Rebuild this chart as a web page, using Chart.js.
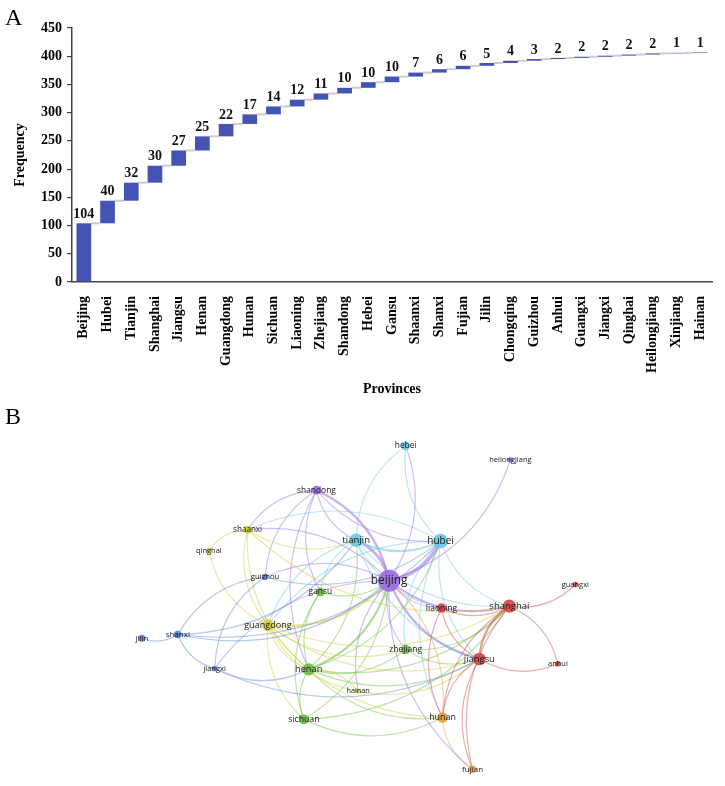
<!DOCTYPE html>
<html><head><meta charset="utf-8">
<script src="https://cdn.jsdelivr.net/npm/chart.js@4/dist/chart.umd.min.js"></script>
<style>
html,body{margin:0;padding:0;background:#fff;}
#wrap{position:relative;width:725px;height:786px;overflow:hidden;background:#fff;}
.panel{position:absolute;font-family:"Liberation Serif","Times New Roman",serif;font-size:24px;line-height:24px;color:#000;}
canvas{position:absolute;left:0;}
</style></head><body>
<div id="wrap">
<canvas id="ca" width="725" height="400" style="top:0"></canvas>
<canvas id="cb" width="725" height="386" style="top:400px"></canvas>
<div class="panel" style="top:5px;left:5px">A</div>
<div class="panel" style="top:404px;left:5px">B</div>
</div>
<script>
// ---------- Panel A data ----------
const provinces = ['Beijing','Hubei','Tianjin','Shanghai','Jiangsu','Henan','Guangdong','Hunan','Sichuan','Liaoning','Zhejiang','Shandong','Hebei','Gansu','Shaanxi','Shanxi','Fujian','Jilin','Chongqing','Guizhou','Anhui','Guangxi','Jiangxi','Qinghai','Heilongjiang','Xinjiang','Hainan'];
const frequency = [104,40,32,30,27,25,22,17,14,12,11,10,10,10,7,6,6,5,4,3,2,2,2,2,2,1,1];
const yTicks = [0,50,100,150,200,250,300,350,400,450];

// ---------- Panel B data ----------
const nodeNames = ['beijing','tianjin','hubei','hebei','heilongjiang','shandong','shaanxi','qinghai','guizhou','gansu','guangdong','shanxi','jilin','jiangxi','henan','hainan','sichuan','zhejiang','liaoning','shanghai','guangxi','jiangsu','anhui','hunan','fujian'];
const nodeX = [0,-34,53,17,125,-75,-146,-186,-128,-71,-125,-218,-255,-180,-83,-32,-88,17,54,124,192,93,174,55,86];
const nodeY = [0,43,42,143,128,96,54,32,4,-12,-47,-57,-61,-93,-94,-117,-147,-73,-29,-27,-4,-83,-88,-145,-200];
const nodeCluster = [5,6,6,6,5,5,4,4,3,2,4,3,3,3,2,4,2,2,1,1,1,1,1,7,7];
const links = [
 ['beijing','tianjin',3],['beijing','hubei',4],['beijing','heilongjiang',1],['beijing','shandong',2],
 ['beijing','shanghai',2],['beijing','jiangsu',2],['beijing','liaoning',1],['beijing','fujian',1],
 ['beijing','zhejiang',1],['beijing','guizhou',1],['beijing','shaanxi',1],['beijing','jiangxi',1],['beijing','hainan',1],
 ['shandong','tianjin',1],['shandong','hubei',1],['shandong','guizhou',1],['shandong','gansu',1],['shandong','henan',1],['shandong','shaanxi',1],
 ['tianjin','hubei',2],['hebei','tianjin',1],['hebei','hubei',1],['beijing','hebei',1],['tianjin','shanghai',1],['tianjin','jiangsu',1],
 ['tianjin','liaoning',1],['tianjin','guangdong',1],['tianjin','gansu',1],['hubei','shanghai',1],['hubei','jiangsu',1],
 ['hubei','zhejiang',1],['hubei','hunan',1],['hubei','guangdong',1],['hubei','shaanxi',1],
 ['henan','beijing',2],['henan','tianjin',1],['henan','hubei',1],['henan','sichuan',1],['henan','hunan',1],['henan','jiangsu',1],
 ['henan','shanghai',1],['henan','zhejiang',1],['gansu','henan',1],['jiangxi','henan',1],['gansu','beijing',1],['gansu','sichuan',1],
 ['sichuan','beijing',1],['sichuan','hunan',1],['sichuan','shanghai',1],['zhejiang','shanghai',1],['zhejiang','jiangsu',1],
 ['guangdong','beijing',2],['guangdong','henan',1],['guangdong','sichuan',1],['guangdong','shanghai',1],['guangdong','jiangsu',1],
 ['guangdong','zhejiang',1],['guangdong','hunan',1],['guangdong','hainan',1],['shaanxi','qinghai',1],['shaanxi','guangdong',1],
 ['shaanxi','henan',1],['shaanxi','tianjin',1],['shaanxi','shanghai',1],['qinghai','guangdong',1],['hainan','jiangsu',1],['hainan','henan',1],
 ['guizhou','shanxi',1],['guizhou','jiangxi',1],['guizhou','hubei',1],['jilin','shanxi',1],['shanxi','jiangxi',1],['shanxi','tianjin',1],
 ['shanxi','hubei',1],['shanxi','beijing',1],['jiangxi','jiangsu',1],
 ['shanghai','jiangsu',2],['shanghai','guangxi',1],['anhui','shanghai',1],['shanghai','hunan',1],['shanghai','fujian',1],
 ['liaoning','shanghai',1],['jiangsu','anhui',1],['jiangsu','fujian',1],['jiangsu','hunan',1],['liaoning','jiangsu',1],['liaoning','hunan',1],
 ['hunan','fujian',1],['hunan','beijing',1]
];

// ---------- Panel A chart ----------
const serif = "'Liberation Serif','Times New Roman',serif";
let running = 0;
const floatingBars = frequency.map(v => { const a = running; running += v; return [a, running]; });

const connectorPlugin = {
  id: 'connectors',
  beforeDatasetsDraw(chart) {
    const meta = chart.getDatasetMeta(0);
    const y = chart.scales.y;
    const ctx = chart.ctx;
    ctx.save();
    ctx.strokeStyle = '#cccccc';
    ctx.lineWidth = 2;
    for (let i = 0; i < meta.data.length - 1; i++) {
      const b = meta.data[i], n = meta.data[i + 1];
      const py = y.getPixelForValue(floatingBars[i][1]);
      ctx.beginPath();
      ctx.moveTo(b.x + b.width / 2, py);
      ctx.lineTo(n.x - n.width / 2, py);
      ctx.stroke();
    }
    ctx.restore();
  }
};
const valueLabelPlugin = {
  id: 'valueLabels',
  afterDatasetsDraw(chart) {
    const meta = chart.getDatasetMeta(0);
    const y = chart.scales.y;
    const ctx = chart.ctx;
    ctx.save();
    ctx.font = 'bold 14px ' + serif;
    ctx.fillStyle = '#111';
    ctx.textAlign = 'center';
    ctx.textBaseline = 'bottom';
    meta.data.forEach((b, i) => {
      ctx.fillText(String(frequency[i]), b.x, y.getPixelForValue(floatingBars[i][1]) - 2);
    });
    ctx.restore();
  }
};

new Chart(document.getElementById('ca'), {
  type: 'bar',
  data: { labels: provinces, datasets: [{ data: floatingBars, backgroundColor: '#4454b3', borderWidth: 0, barPercentage: 0.62, categoryPercentage: 1 }] },
  options: {
    responsive: false, animation: false,
    layout: { padding: { top: 28, right: 13, left: 0, bottom: 0 } },
    plugins: { legend: { display: false }, tooltip: { enabled: false } },
    events: [],
    scales: {
      x: {
        grid: { display: false },
        border: { display: true, color: '#444', width: 1.5 },
        ticks: { minRotation: 90, maxRotation: 90, autoSkip: false, padding: 6, color: '#000', font: { family: serif, weight: 'bold', size: 14 } },
        title: { display: true, text: 'Provinces', color: '#000', font: { family: serif, weight: 'bold', size: 14 }, padding: { top: 0, bottom: 2 } },
        afterFit: s => { s.height = 118; }
      },
      y: {
        min: 0, max: 450,
        afterBuildTicks: s => { s.ticks = yTicks.map(v => ({ value: v })); },
        ticks: { padding: 5, color: '#000', font: { family: serif, weight: 'bold', size: 14 } },
        grid: { display: true, drawOnChartArea: false, tickLength: 5, color: '#444', lineWidth: 1.2 },
        border: { color: '#444', width: 1.5 },
        title: { display: true, text: 'Frequency', color: '#000', font: { family: serif, weight: 'bold', size: 14 }, padding: { top: 12, bottom: 0 } },
        afterFit: s => { s.width = 72; }
      }
    }
  },
  plugins: [connectorPlugin, valueLabelPlugin]
});

// ---------- Panel B chart ----------
const clusterColors = { 1: '#d24848', 2: '#6bbf48', 3: '#5a83d6', 4: '#cfd136', 5: '#9b6fdf', 6: '#6cc8de', 7: '#e9a03c' };
const freqOf = name => frequency[provinces.findIndex(p => p.toLowerCase() === name)];
const idx = name => nodeNames.indexOf(name);
function rgba(hex, a) {
  const n = parseInt(hex.slice(1), 16);
  return `rgba(${(n >> 16) & 255},${(n >> 8) & 255},${n & 255},${a})`;
}

const edgePlugin = {
  id: 'edges',
  beforeDatasetsDraw(chart) {
    const xs = chart.scales.x, ys = chart.scales.y, ctx = chart.ctx;
    ctx.save();
    ctx.lineCap = 'round';
    links.forEach(([a, b, w]) => {
      const ia = idx(a), ib = idx(b);
      const ax = xs.getPixelForValue(nodeX[ia]), ay = ys.getPixelForValue(nodeY[ia]);
      const bx = xs.getPixelForValue(nodeX[ib]), by = ys.getPixelForValue(nodeY[ib]);
      const dx = bx - ax, dy = by - ay;
      const cx = (ax + bx) / 2 - dy * 0.25, cy = (ay + by) / 2 + dx * 0.25;
      ctx.strokeStyle = rgba(clusterColors[nodeCluster[ia]], w > 1 ? 0.55 : 0.45);
      ctx.lineWidth = w > 1 ? 0.8 + w * 0.7 : 1.2;
      ctx.beginPath();
      ctx.moveTo(ax, ay);
      ctx.quadraticCurveTo(cx, cy, bx, by);
      ctx.stroke();
    });
    ctx.restore();
  }
};
const nodeLabelPlugin = {
  id: 'nodeLabels',
  afterDatasetsDraw(chart) {
    const xs = chart.scales.x, ys = chart.scales.y, ctx = chart.ctx;
    ctx.save();
    ctx.textAlign = 'center';
    ctx.textBaseline = 'middle';
    ctx.fillStyle = '#1a1a1a';
    nodeNames.forEach((n, i) => {
      const f = freqOf(n);
      const size = 6.8 + 0.5 * Math.sqrt(f);
      ctx.font = size.toFixed(1) + "px 'Open Sans', 'DejaVu Sans', sans-serif";
      ctx.fillText(n, xs.getPixelForValue(nodeX[i]), ys.getPixelForValue(nodeY[i]));
    });
    ctx.restore();
  }
};

new Chart(document.getElementById('cb'), {
  type: 'bubble',
  data: {
    datasets: [{
      data: nodeNames.map((n, i) => ({ x: nodeX[i], y: nodeY[i], r: 1.5 + 0.93 * Math.sqrt(freqOf(n)) })),
      backgroundColor: nodeCluster.map(c => rgba(clusterColors[c], 0.92)),
      borderWidth: 0,
      clip: false
    }]
  },
  options: {
    responsive: false, animation: false, events: [],
    layout: { padding: 0 },
    plugins: { legend: { display: false }, tooltip: { enabled: false } },
    scales: {
      x: { display: false, min: -390, max: 335 },
      y: { display: false, min: -206, max: 180 }
    }
  },
  plugins: [edgePlugin, nodeLabelPlugin]
});
</script>
</body></html>
